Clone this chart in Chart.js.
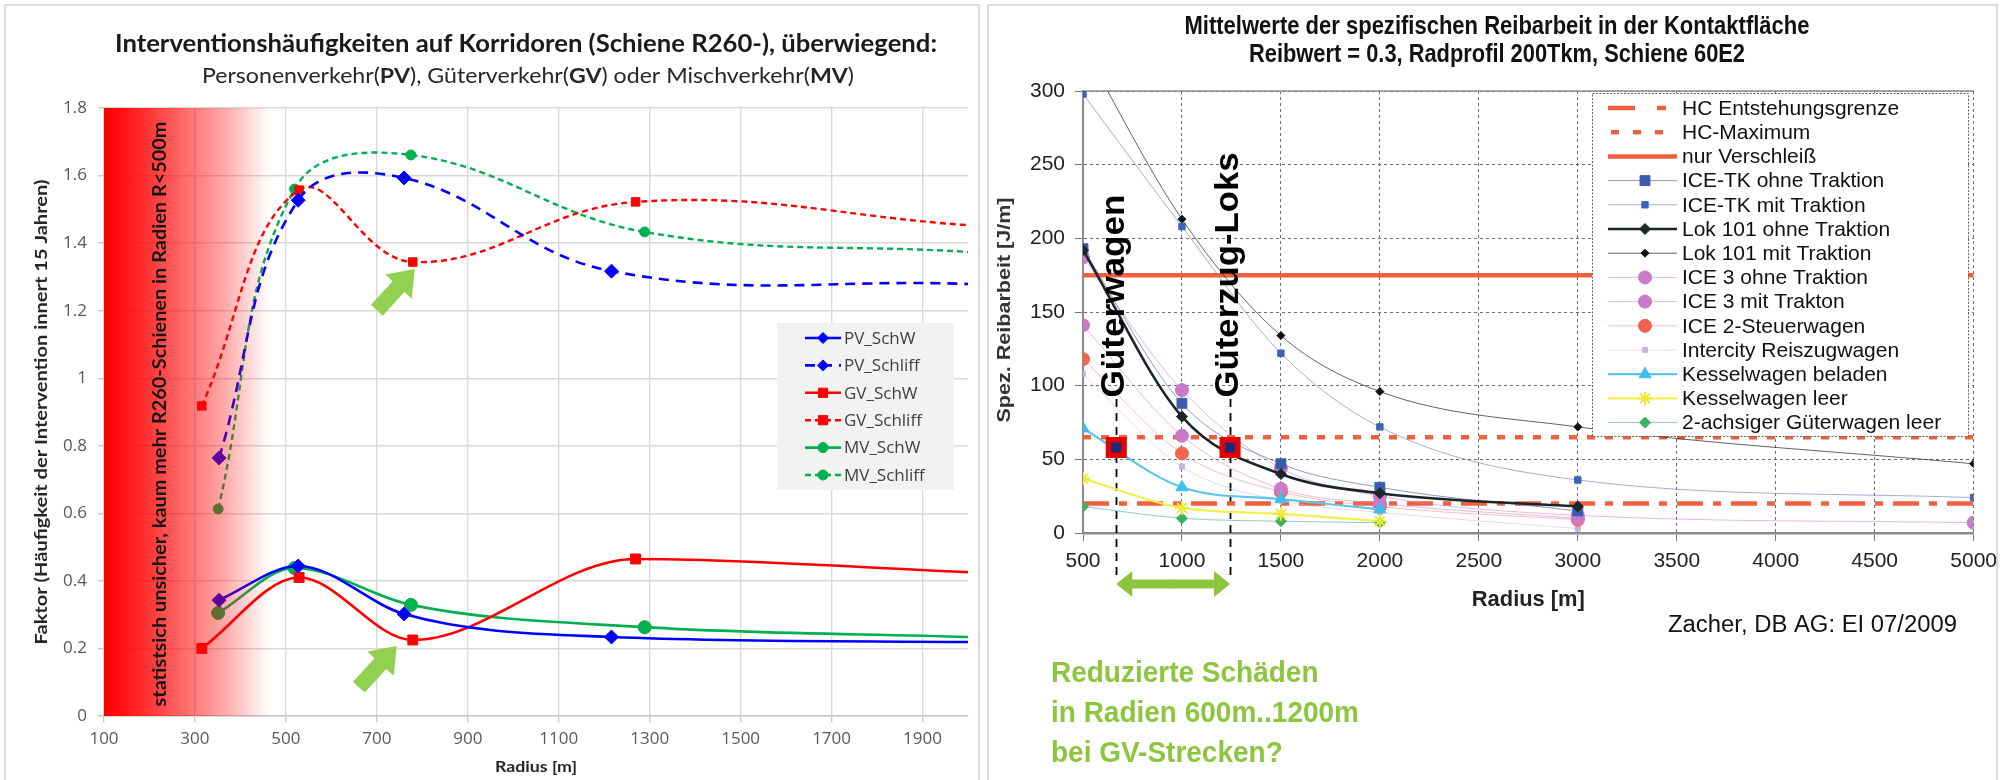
<!DOCTYPE html>
<html lang="de">
<head>
<meta charset="utf-8">
<title>Interventionshäufigkeiten und Reibarbeit</title>
<script src="https://cdn.jsdelivr.net/npm/chart.js@4.4.1/dist/chart.umd.min.js"></script>
<style>
  html, body { margin: 0; padding: 0; background: #fff; }
  body { position: relative; width: 2005px; height: 780px; overflow: hidden; }
  canvas { position: absolute; top: 0; }
  .frame { position: absolute; top: 4px; height: 790px; border: 2px solid #dadada; box-sizing: border-box; }
</style>
</head>
<body>
<canvas id="interventionChart" width="985" height="780" style="left:0"></canvas>
<canvas id="reibarbeitChart" width="1020" height="780" style="left:985px"></canvas>
<div class="frame" style="left:4px; width:976px"></div>
<div class="frame" style="left:987px; width:1011px"></div>
<script>
// ---------- Interventionshäufigkeit (R260 rails) ----------
const radiusTicks = [100, 300, 500, 700, 900, 1100, 1300, 1500, 1700, 1900];
const pvRadius = [353, 527, 760, 1216, 2000];
const gvRadius = [315, 529, 779, 1269, 2000];
const mvRadius = [351, 519, 775, 1289, 2000];
const pvSchW    = [0.343, 0.444, 0.302, 0.234, 0.219];
const pvSchliff = [0.764, 1.527, 1.593, 1.317, 1.279];
const gvSchW    = [0.200, 0.410, 0.225, 0.465, 0.426];
const gvSchliff = [0.918, 1.557, 1.344, 1.522, 1.453];
const mvSchW    = [0.305, 0.438, 0.329, 0.263, 0.234];
const mvSchliff = [0.613, 1.560, 1.661, 1.433, 1.374];
const unsureZoneEnd = 465; // radius where the "statistically uncertain" shading fades out

// ---------- Spezifische Reibarbeit ----------
const reibRadius = [500, 1000, 1500, 2000, 3000, 5000];
const iceTkOhne     = [193, 88, 47, 31, 15, null];
const iceTkMit      = [298, 208, 122, 72, 36, 24];
const lok101Ohne    = [192, 79, 40, 27, 18, null];
const lok101Mit     = [330, 213, 134, 96, 72, 47];
const ice3Ohne      = [187, 97, 44, 25, 12, 7];
const ice3Mit       = [141, 66, 30, 20, 10, null];
const ice2Steuer    = [118, 54, 28, 18, 9, null];
const icReisezug    = [108, 45, 22, 14, 3, null];
const kesselBeladen = [71, 31, 23, 16, null, null];
const kesselLeer    = [37, 17, 13, 8, null, null];
const gueterLeer    = [18, 10, 8, 7, null, null];
const hcLevels = [20, 65, 175];
const hcLabels = ['HC Entstehungsgrenze', 'HC-Maximum', 'nur Verschleiß'];
const markedRadius = [668, 1243];
const markedWork = [58, 58];
const markedLabels = ['Güterwagen', 'Güterzug-Loks'];

Chart.defaults.font.family = "'Open Sans', sans-serif";
Chart.defaults.animation = false;

const toPoints = (xs, ys) => xs.map((x, i) => ({ x, y: ys[i] })).filter(p => p.y !== null);
const plainNumber = v => String(+Number(v).toFixed(1));

function drawText(ctx, text, x, y, opts) {
  const { font, color = '#000', align = 'center', width = null, squeeze = 1, angle = 0 } = opts;
  ctx.save();
  ctx.font = font;
  ctx.fillStyle = color;
  ctx.textAlign = align;
  ctx.textBaseline = 'middle';
  ctx.translate(x, y);
  if (angle) ctx.rotate(angle);
  ctx.scale(width ? width / ctx.measureText(text).width : squeeze, 1);
  ctx.fillText(text, 0, 0);
  ctx.restore();
}

// one line with mixed regular / bold parts, squeezed to a given width
function drawRichLine(ctx, parts, cx, cy, size, family, width, color) {
  ctx.save();
  const fonts = parts.map(p => (p[1] ? 'bold ' : '') + size + 'px ' + family);
  let total = 0;
  const widths = parts.map((p, i) => { ctx.font = fonts[i]; const w = ctx.measureText(p[0]).width; total += w; return w; });
  ctx.translate(cx - width / 2, cy);
  ctx.scale(width / total, 1);
  ctx.textBaseline = 'middle';
  ctx.textAlign = 'left';
  ctx.fillStyle = color;
  let xx = 0;
  parts.forEach((p, i) => { ctx.font = fonts[i]; ctx.fillText(p[0], xx, 0); xx += widths[i]; });
  ctx.restore();
}

function marker(ctx, style, x, y, radius, fill, stroke, bw) {
  ctx.save();
  ctx.fillStyle = fill;
  ctx.strokeStyle = stroke || fill;
  ctx.lineWidth = bw;
  ctx.setLineDash([]);
  Chart.helpers.drawPoint(ctx, { pointStyle: style, radius, rotation: 0, borderWidth: bw }, x, y);
  ctx.restore();
}

function blockArrow(ctx, tipX, tipY, angle, len, shaft, headW, headL, color) {
  ctx.save();
  ctx.translate(tipX, tipY);
  ctx.rotate(angle);
  ctx.fillStyle = color;
  ctx.beginPath();
  ctx.moveTo(0, 0);
  ctx.lineTo(-headL, -headW / 2);
  ctx.lineTo(-headL, -shaft / 2);
  ctx.lineTo(-len, -shaft / 2);
  ctx.lineTo(-len, shaft / 2);
  ctx.lineTo(-headL, shaft / 2);
  ctx.lineTo(-headL, headW / 2);
  ctx.closePath();
  ctx.fill();
  ctx.restore();
}

// ================= left chart =================
// solid curves peak at their markers (monotone), the dashed ones swing over
const interventionStyles = [
  { label: 'PV_SchW',    r: pvRadius, v: pvSchW,    color: '#0000ff', width: 2.6, dash: [],      point: 'rectRot', size: 7,   legendSize: 5.5, smooth: 'monotone' },
  { label: 'PV_Schliff', r: pvRadius, v: pvSchliff, color: '#0000ff', width: 2.6, dash: [10, 7], point: 'rectRot', size: 7,   legendSize: 5.5, smooth: 'spline' },
  { label: 'GV_SchW',    r: gvRadius, v: gvSchW,    color: '#ff0000', width: 2.6, dash: [],      point: 'rect',    size: 7,   legendSize: 6.5, smooth: 'monotone' },
  { label: 'GV_Schliff', r: gvRadius, v: gvSchliff, color: '#ff0000', width: 2.4, dash: [6, 4],  point: 'rect',    size: 6,   legendSize: 6.5, smooth: 'spline' },
  { label: 'MV_SchW',    r: mvRadius, v: mvSchW,    color: '#00b050', width: 2.6, dash: [],      point: 'circle',  size: 6.5, legendSize: 5,   smooth: 'monotone' },
  { label: 'MV_Schliff', r: mvRadius, v: mvSchliff, color: '#00b050', width: 2.4, dash: [6, 4],  point: 'circle',  size: 5,   legendSize: 5,   smooth: 'spline' }
];

const leftDatasets = interventionStyles.map(s => ({
  label: s.label,
  data: toPoints(s.r, s.v),
  borderColor: s.color,
  backgroundColor: s.color,
  borderWidth: s.width,
  borderDash: s.dash,
  tension: 0.4,
  cubicInterpolationMode: s.smooth === 'monotone' ? 'monotone' : 'default',
  pointStyle: s.point,
  pointRadius: s.r.map((_, i) => (i === s.r.length - 1 ? 0 : s.size)),
  pointBorderWidth: 1
}));

const leftDecor = {
  id: 'leftDecor',
  afterDatasetsDraw(chart) {
    const { ctx, chartArea: a, scales: { x } } = chart;
    // red shading for small radii, laid over the curves
    const fadeEnd = x.getPixelForValue(unsureZoneEnd);
    const g = ctx.createLinearGradient(a.left, 0, fadeEnd, 0);
    g.addColorStop(0, 'rgba(255,0,0,1)');
    g.addColorStop(0.12, 'rgba(255,0,0,0.93)');
    g.addColorStop(0.45, 'rgba(255,0,0,0.62)');
    g.addColorStop(0.72, 'rgba(255,0,0,0.34)');
    g.addColorStop(1, 'rgba(255,0,0,0)');
    ctx.save();
    ctx.fillStyle = g;
    ctx.fillRect(a.left, a.top, fadeEnd - a.left, a.bottom - a.top);
    ctx.restore();
    drawText(ctx, 'statistsich unsicher, kaum mehr R260-Schienen in Radien R<500m', a.left + 56, (a.top + a.bottom) / 2 + 2,
      { font: 'bold 19px Lato', color: '#151515', width: 585, angle: -Math.PI / 2 });

    // green arrows pointing at the GV minimum
    const gvSchliffPt = chart.getDatasetMeta(3).data[2];
    const gvSchWPt = chart.getDatasetMeta(2).data[2];
    const ang = Math.atan2(-38, 35);
    blockArrow(ctx, gvSchliffPt.x + 2, gvSchliffPt.y + 7, ang, 56, 16, 36, 24, '#92d050');
    blockArrow(ctx, gvSchWPt.x - 16, gvSchWPt.y + 6, ang, 56, 16, 36, 24, '#92d050');
  },
  afterDraw(chart) {
    const { ctx, chartArea: a } = chart;
    drawText(ctx, 'Interventionshäufigkeiten auf Korridoren (Schiene R260-), überwiegend:', 526, 44,
      { font: 'bold 25px Lato', color: '#1a1a1a', width: 822 });
    drawRichLine(ctx, [['Personenverkehr(', 0], ['PV', 1], ['), Güterverkehr(', 0], ['GV', 1], [') oder Mischverkehr(', 0], ['MV', 1], [')', 0]],
      528, 76, 21, 'Lato', 652, '#262626');
    drawText(ctx, 'Faktor (Häufigkeit der Intervention innert 15 Jahren)', 42, (a.top + a.bottom) / 2,
      { font: 'bold 17px Lato', color: '#262626', width: 465, angle: -Math.PI / 2 });
    drawText(ctx, 'Radius [m]', (a.left + a.right) / 2, 767, { font: 'bold 16px Lato', color: '#262626', width: 82 });

    // legend box
    ctx.save();
    ctx.fillStyle = '#f2f2f2';
    ctx.fillRect(777, 323, 177, 167);
    interventionStyles.forEach((s, i) => {
      const yy = 338 + i * 27.4;
      ctx.strokeStyle = s.color;
      ctx.lineWidth = s.width;
      ctx.setLineDash(s.dash);
      ctx.beginPath();
      ctx.moveTo(805, yy);
      ctx.lineTo(841, yy);
      ctx.stroke();
      marker(ctx, s.point, 823, yy, s.legendSize, s.color, s.color, 1);
      drawText(ctx, s.label, 844, yy + 1, { font: '17px "Open Sans"', color: '#404040', align: 'left' });
    });
    ctx.restore();
  }
};

new Chart(document.getElementById('interventionChart'), {
  type: 'line',
  data: { datasets: leftDatasets },
  options: {
    responsive: false,
    layout: { padding: { top: 108, right: 17, left: 0, bottom: 0 } },
    plugins: { legend: { display: false }, tooltip: { enabled: false } },
    scales: {
      x: {
        type: 'linear', min: 100, max: 2000,
        afterBuildTicks: s => { s.ticks = radiusTicks.map(v => ({ value: v })); },
        afterFit: s => { s.height = 64; },
        grid: { color: '#d9d9d9', lineWidth: 1.4, tickLength: 6, tickColor: '#c8c8c8' },
        border: { color: '#c8c8c8', width: 1.5 },
        ticks: { color: '#595959', font: { size: 17 }, padding: 7, maxRotation: 0, callback: plainNumber }
      },
      y: {
        min: 0, max: 1.8,
        afterFit: s => { s.width = 104; },
        grid: { color: '#d9d9d9', lineWidth: 1.4, tickLength: 6, tickColor: '#c8c8c8' },
        border: { display: false },
        ticks: { stepSize: 0.2, color: '#595959', font: { size: 17 }, padding: 11, callback: plainNumber }
      }
    }
  },
  plugins: [leftDecor]
});

// ================= right chart =================
const hcColor = '#f0603f';
const hcStyles = [
  { dash: [26, 10, 8, 10], legendDash: [27, 22, 9, 100] },
  { dash: [8, 10], legendDash: [8, 14] },
  { dash: [], legendDash: [] }
];
const reibStyles = [
  { label: 'ICE-TK ohne Traktion',       v: iceTkOhne,     line: 'rgba(110,120,175,0.75)', width: 1,   point: 'rect',    size: 7,   fill: '#3b5cad', order: 1 },
  { label: 'ICE-TK mit Traktion',        v: iceTkMit,      line: 'rgba(135,135,190,0.7)',  width: 1,   point: 'rect',    size: 4.5, fill: '#3d62b8', order: 1 },
  { label: 'Lok 101 ohne Traktion',      v: lok101Ohne,    line: '#1c2626',                width: 2.6, point: 'rectRot', size: 5.5, fill: '#1c2626', order: 0 },
  { label: 'Lok 101 mit Traktion',       v: lok101Mit,     line: 'rgba(45,45,45,0.75)',    width: 1,   point: 'rectRot', size: 4,   fill: '#111111', order: 1 },
  { label: 'ICE 3 ohne Traktion',        v: ice3Ohne,      line: 'rgba(200,130,200,0.55)', width: 1,   point: 'circle',  size: 6.5, fill: '#c97ac9', order: 1 },
  { label: 'ICE 3 mit Trakton',          v: ice3Mit,       line: 'rgba(200,130,200,0.55)', width: 1,   point: 'circle',  size: 6.5, fill: '#c97ac9', order: 1 },
  { label: 'ICE 2-Steuerwagen',          v: ice2Steuer,    line: 'rgba(230,130,130,0.5)',  width: 1,   point: 'circle',  size: 6.5, fill: '#f0644d', order: 1 },
  { label: 'Intercity Reiszugwagen',     v: icReisezug,    line: 'rgba(200,180,225,0.5)',  width: 1,   point: 'rect',    size: 3.5, fill: '#c6b5dc', order: 1 },
  { label: 'Kesselwagen beladen',        v: kesselBeladen, line: '#5cc6ea',                width: 2.2, point: 'triangle', size: 7,  fill: '#3fbfee', order: 0 },
  { label: 'Kesselwagen leer',           v: kesselLeer,    line: '#f4f050',                width: 2.2, point: 'star',    size: 7,   fill: '#ece83a', order: 0 },
  { label: '2-achsiger Güterwagen leer', v: gueterLeer,    line: 'rgba(110,175,170,0.7)',  width: 1,   point: 'rectRot', size: 5.5, fill: '#3db35a', order: 1 }
];

const rightDatasets = [
  ...hcLevels.map((lvl, i) => ({
    label: hcLabels[i],
    data: [{ x: 500, y: lvl }, { x: 5000, y: lvl }],
    borderColor: hcColor,
    borderWidth: 4.5,
    borderDash: hcStyles[i].dash,
    borderCapStyle: 'butt',
    pointRadius: 0,
    order: 2
  })),
  ...reibStyles.map(s => ({
    label: s.label,
    data: toPoints(reibRadius, s.v),
    borderColor: s.line,
    borderWidth: s.width,
    cubicInterpolationMode: 'monotone',
    pointStyle: s.point,
    pointRadius: s.size,
    pointBackgroundColor: s.fill,
    pointBorderColor: s.fill,
    pointBorderWidth: s.point === 'star' ? 2 : 1,
    order: s.order
  })),
  {
    label: 'markiert',
    data: toPoints(markedRadius, markedWork),
    showLine: false,
    pointStyle: 'rect',
    pointRadius: 11,
    pointBackgroundColor: '#1f2a7a',
    pointBorderColor: '#e60000',
    pointBorderWidth: 5.5,
    order: -1
  }
];

const narrow = "'Liberation Sans Narrow', 'Liberation Sans', Arial, sans-serif";

const rightDecor = {
  id: 'rightDecor',
  beforeDatasetsDraw(chart) {
    const { ctx, chartArea: a, scales: { x, y } } = chart;
    ctx.save();
    ctx.strokeStyle = '#8c8c8c';
    ctx.lineWidth = 1.5;
    ctx.beginPath();
    ctx.moveTo(a.left, a.top);
    ctx.lineTo(a.right, a.top);
    ctx.stroke();
    // dashed drop lines under the two marked points
    ctx.strokeStyle = '#000';
    ctx.lineWidth = 1.8;
    ctx.setLineDash([8, 6]);
    markedRadius.forEach(r => {
      const px = Math.round(x.getPixelForValue(r)) + 0.5;
      ctx.beginPath();
      ctx.moveTo(px, y.getPixelForValue(91));
      ctx.lineTo(px, a.bottom + 44);
      ctx.stroke();
    });
    ctx.restore();
  },
  afterDatasetsDraw(chart) {
    const { ctx, chartArea: a, scales: { x, y } } = chart;
    const widths = [203, 245];
    markedLabels.forEach((t, i) => {
      const px = x.getPixelForValue(markedRadius[i]);
      drawText(ctx, t, px - 1, y.getPixelForValue(92), { font: 'bold 33px "Liberation Sans"', color: '#000', align: 'left', width: widths[i], angle: -Math.PI / 2 });
    });
    // double arrow between the marked radii
    const x1 = x.getPixelForValue(markedRadius[0]);
    const x2 = x.getPixelForValue(markedRadius[1]);
    const ya = a.bottom + 51;
    const mid = (x1 + x2) / 2;
    blockArrow(ctx, x2, ya, 0, x2 - mid + 1, 9, 26, 16, '#8cc63e');
    blockArrow(ctx, x1, ya, Math.PI, mid - x1 + 1, 9, 26, 16, '#8cc63e');
  },
  afterDraw(chart) {
    const { ctx, chartArea: a } = chart;
    drawText(ctx, 'Mittelwerte der spezifischen Reibarbeit in der Kontaktfläche', 512, 27, { font: 'bold 25px "Liberation Sans"', color: '#111', width: 625 });
    drawText(ctx, 'Reibwert = 0.3, Radprofil 200Tkm, Schiene 60E2', 512, 55, { font: 'bold 25px "Liberation Sans"', color: '#111', width: 496 });
    drawText(ctx, 'Spez. Reibarbeit [J/m]', 20, 310, { font: 'bold 19px "Liberation Sans"', color: '#333', width: 225, angle: -Math.PI / 2 });
    drawText(ctx, 'Radius [m]', (a.left + a.right) / 2, 600, { font: 'bold 22px "Liberation Sans"', color: '#222', width: 113 });
    drawText(ctx, 'Zacher, DB AG: EI 07/2009', 972, 626, { font: '23px "Liberation Sans"', color: '#111', align: 'right', width: 289 });

    // green note, all three lines condensed by the same factor
    const noteLines = ['Reduzierte Schäden', 'in Radien 600m..1200m', 'bei GV-Strecken?'];
    const noteFont = 'bold 29px "Liberation Sans"';
    ctx.save();
    ctx.font = noteFont;
    const squeeze = 308 / ctx.measureText(noteLines[1]).width;
    ctx.restore();
    noteLines.forEach((t, i) => {
      drawText(ctx, t, 66, 674 + i * 40, { font: noteFont, color: '#8cc63e', align: 'left', squeeze });
    });

    // legend
    const L = 607, T = 93, W = 376, H = 343;
    ctx.save();
    ctx.fillStyle = '#fff';
    ctx.fillRect(L, T, W, H);
    ctx.strokeStyle = '#666';
    ctx.lineWidth = 1;
    ctx.setLineDash([2, 1.5]);
    ctx.strokeRect(L + 0.5, T + 0.5, W, H);
    const rowY = i => 108 + i * 24.2;
    hcLabels.forEach((label, i) => {
      const yy = rowY(i);
      ctx.strokeStyle = hcColor;
      ctx.lineWidth = 4.5;
      ctx.setLineDash(hcStyles[i].legendDash);
      ctx.beginPath();
      ctx.moveTo(i === 1 ? 626 : 623, yy);
      ctx.lineTo(692, yy);
      ctx.stroke();
      drawText(ctx, label, 697, yy + 1, { font: '21px "Liberation Sans"', color: '#111', align: 'left' });
    });
    reibStyles.forEach((s, j) => {
      const yy = rowY(j + 3);
      ctx.strokeStyle = s.line;
      ctx.lineWidth = s.width;
      ctx.setLineDash([]);
      ctx.beginPath();
      ctx.moveTo(623, yy);
      ctx.lineTo(692, yy);
      ctx.stroke();
      marker(ctx, s.point, 660, yy, s.size, s.fill, s.fill, s.point === 'star' ? 2 : 1);
      drawText(ctx, s.label, 697, yy + 1, { font: '21px "Liberation Sans"', color: '#111', align: 'left' });
    });
    ctx.restore();
  }
};

new Chart(document.getElementById('reibarbeitChart'), {
  type: 'line',
  data: { datasets: rightDatasets },
  options: {
    responsive: false,
    layout: { padding: { top: 91, right: 30, left: 0, bottom: 0 } },
    plugins: { legend: { display: false }, tooltip: { enabled: false } },
    scales: {
      x: {
        type: 'linear', min: 500, max: 5000,
        afterFit: s => { s.height = 247; },
        grid: { color: 'rgba(60,60,60,0.75)', lineWidth: 1, tickLength: 8, tickColor: '#777' },
        border: { color: '#8c8c8c', width: 2.5, dash: [3, 3] },
        ticks: { stepSize: 500, color: '#222', font: { family: narrow, size: 21 }, padding: 8, maxRotation: 0, callback: plainNumber }
      },
      y: {
        min: 0, max: 300,
        afterFit: s => { s.width = 98; },
        grid: { color: 'rgba(60,60,60,0.75)', lineWidth: 1, tickLength: 8, tickColor: '#777' },
        border: { color: '#8c8c8c', width: 2, dash: [3, 3] },
        ticks: { stepSize: 50, color: '#222', font: { family: narrow, size: 21 }, padding: 10, callback: plainNumber }
      }
    }
  },
  plugins: [rightDecor]
});
</script>
</body>
</html>
